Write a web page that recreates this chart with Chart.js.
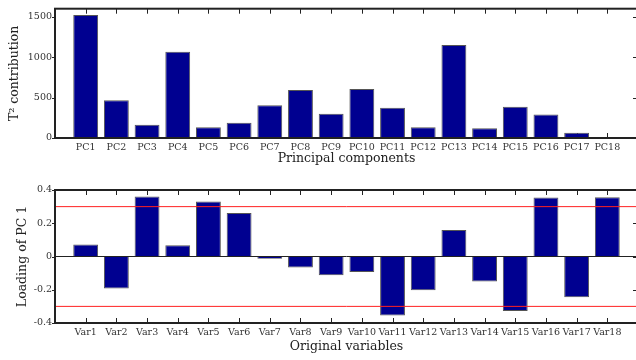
<!DOCTYPE html>
<html>
<head>
<meta charset="utf-8">
<script src="https://cdn.jsdelivr.net/npm/chart.js@4/dist/chart.umd.min.js"></script>
<style>
    html, body { margin: 0; padding: 0; background: #fff; overflow: hidden; width: 636px; height: 360px; }
    canvas { position: absolute; left: 0; }
    #t2Chart { top: 0; }
    #loadingChart { top: 180px; }
</style>
</head>
<body>
<canvas id="t2Chart" width="642" height="170"></canvas>
<canvas id="loadingChart" width="642" height="180"></canvas>
<script>
// Top panel: T^2 contribution per principal component
const pcLabels = ['PC1', 'PC2', 'PC3', 'PC4', 'PC5', 'PC6', 'PC7', 'PC8', 'PC9',
                  'PC10', 'PC11', 'PC12', 'PC13', 'PC14', 'PC15', 'PC16', 'PC17', 'PC18'];
const t2Values = [1522, 467, 165, 1066, 132, 189, 405, 593, 300,
                  605, 373, 132, 1150, 120, 388, 292, 64, 8];
const t2Ticks = [0, 500, 1000, 1500];

// Bottom panel: loadings of PC 1 per original variable
const varLabels = ['Var1', 'Var2', 'Var3', 'Var4', 'Var5', 'Var6', 'Var7', 'Var8', 'Var9',
                   'Var10', 'Var11', 'Var12', 'Var13', 'Var14', 'Var15', 'Var16', 'Var17', 'Var18'];
const loadings = [0.072, -0.193, 0.361, 0.068, 0.331, 0.261, -0.014, -0.066, -0.113,
                  -0.093, -0.355, -0.203, 0.160, -0.151, -0.328, 0.355, -0.245, 0.357];
const loadingTicks = [-0.4, -0.2, 0, 0.2, 0.4];
const limitValues = [0.3, -0.3];

Chart.defaults.font.family = "'DejaVu Serif', serif";
Chart.defaults.animation = false;

const AXIS_COLOR = '#222';
const BAR_COLOR = '#000090';

// matlab-ish box with tick marks
const axesFrame = {
    id: 'axesFrame',
    beforeDatasetsDraw(chart) {
        const { ctx, chartArea: a, scales } = chart;
        ctx.save();
        ctx.strokeStyle = AXIS_COLOR;
        ctx.lineWidth = 1;
        ctx.beginPath();
        scales.x.ticks.forEach(t => {
            const px = Math.round(scales.x.getPixelForValue(t.value)) + 0.5;
            ctx.moveTo(px, a.top); ctx.lineTo(px, a.top + 5);
            ctx.moveTo(px, a.bottom); ctx.lineTo(px, a.bottom - 5);
        });
        scales.y.ticks.forEach(t => {
            const py = Math.round(scales.y.getPixelForValue(t.value)) + 0.5;
            ctx.moveTo(a.left - 3, py); ctx.lineTo(a.left, py);
            ctx.moveTo(a.right - 5, py); ctx.lineTo(a.right, py);
        });
        ctx.stroke();
        ctx.restore();
    },
    afterDatasetsDraw(chart) {
        const { ctx, chartArea: a } = chart;
        ctx.save();
        ctx.strokeStyle = AXIS_COLOR;
        ctx.lineWidth = 2;
        ctx.strokeRect(a.left, a.top, a.right - a.left, a.bottom - a.top);
        ctx.restore();
    }
};

function xAxis(labels, titleText, titlePad) {
    return {
        type: 'linear',
        min: 0,
        max: labels.length + 1,
        offset: false,
        afterBuildTicks: scale => { scale.ticks = labels.map((l, i) => ({ value: i + 1 })); },
        afterFit: scale => { scale.height = titlePad.height; },
        grid: { display: false, drawTicks: false },
        border: { display: false },
        ticks: {
            autoSkip: false,
            maxRotation: 0,
            padding: 4,
            color: '#333',
            font: { size: 9.5 },
            callback: v => labels[v - 1]
        },
        title: {
            display: true,
            text: titleText,
            color: AXIS_COLOR,
            font: { size: 12.5 },
            padding: { top: 0, bottom: titlePad.bottom }
        }
    };
}

function yAxis(tickValues, titleText, titleLeft, fmt, zeroLine) {
    return {
        min: tickValues[0],
        max: tickValues === t2Ticks ? 1600 : tickValues[tickValues.length - 1],
        afterBuildTicks: scale => { scale.ticks = tickValues.map(v => ({ value: v })); },
        afterFit: scale => { scale.width = 55; },
        grid: {
            display: zeroLine,
            drawTicks: false,
            color: c => (c.tick && c.tick.value === 0) ? AXIS_COLOR : 'rgba(0,0,0,0)'
        },
        border: { display: false },
        ticks: { padding: 3, color: '#333', font: { size: 9.5 }, callback: fmt },
        title: {
            display: true,
            text: titleText,
            color: AXIS_COLOR,
            font: { size: 12.5 },
            padding: { top: titleLeft, bottom: 0 }
        }
    };
}

new Chart(document.getElementById('t2Chart'), {
    type: 'bar',
    data: {
        datasets: [{
            data: t2Values.map((v, i) => ({ x: i + 1, y: v })),
            backgroundColor: BAR_COLOR,
            borderColor: '#555',
            borderWidth: 1,
            categoryPercentage: 1,
            barPercentage: 0.81
        }]
    },
    options: {
        responsive: false,
        layout: { padding: { top: 5, right: 4, left: 0, bottom: 0 } },
        plugins: { legend: { display: false }, tooltip: { enabled: false } },
        scales: {
            x: xAxis(pcLabels, 'Principal components', { height: 32, bottom: 3.5 }),
            y: yAxis(t2Ticks, 'T\u00B2 contribution', 7.5, v => String(v), false)
        }
    },
    plugins: [axesFrame]
});

new Chart(document.getElementById('loadingChart'), {
    type: 'bar',
    data: {
        datasets: [
            ...limitValues.map(lim => ({
                type: 'line',
                data: [{ x: 0, y: lim }, { x: varLabels.length + 1, y: lim }],
                borderColor: '#ff2020',
                borderWidth: 1,
                pointRadius: 0,
                order: 0
            })),
            {
                data: loadings.map((v, i) => ({ x: i + 1, y: v })),
                backgroundColor: BAR_COLOR,
                borderColor: '#555',
                borderWidth: 1,
                categoryPercentage: 1,
                barPercentage: 0.81,
                order: 1
            }
        ]
    },
    options: {
        responsive: false,
        layout: { padding: { top: 10, right: 4, left: 0, bottom: 0 } },
        plugins: { legend: { display: false }, tooltip: { enabled: false } },
        scales: {
            x: xAxis(varLabels, 'Original variables', { height: 37, bottom: 6 }),
            y: yAxis(loadingTicks, 'Loading of PC 1', 15.5, v => String(Number(v.toFixed(1))), true)
        }
    },
    plugins: [axesFrame]
});
</script>
</body>
</html>
